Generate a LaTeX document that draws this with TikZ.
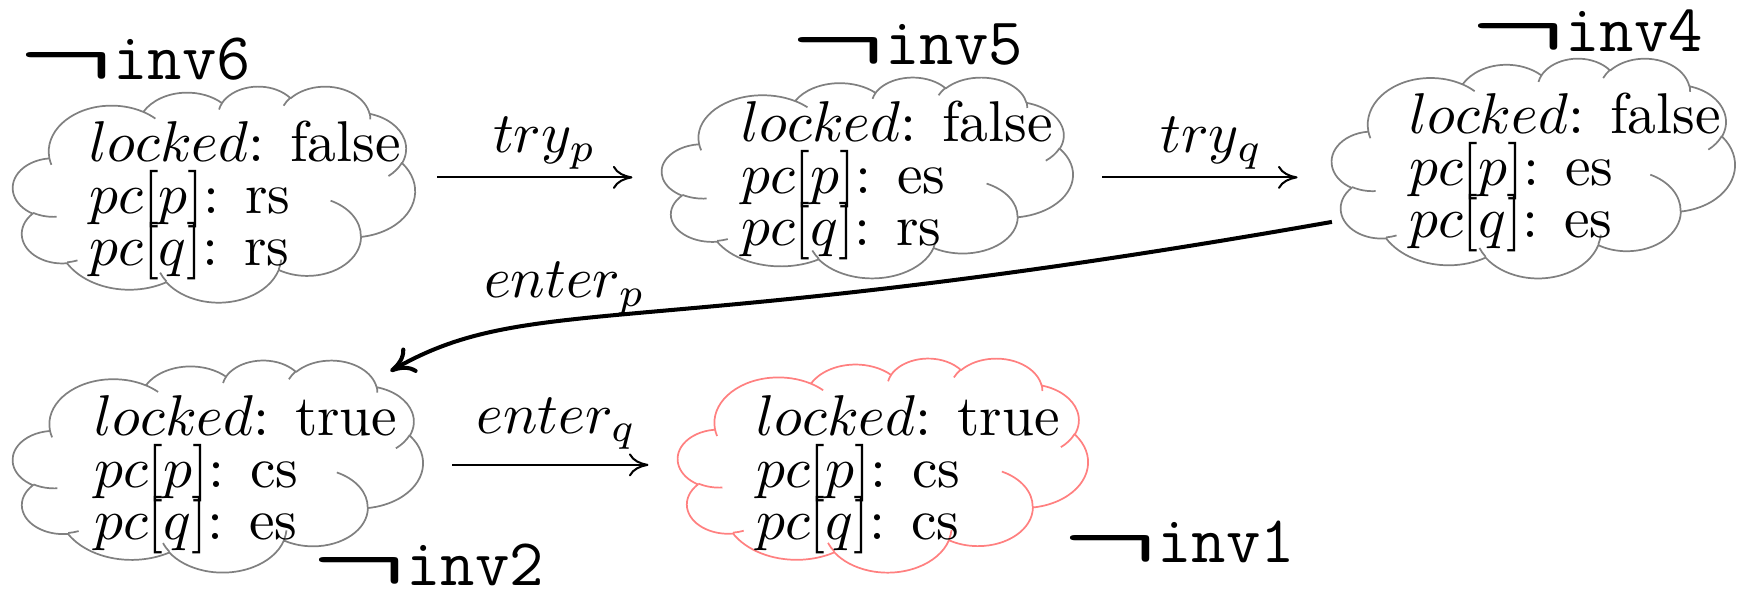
\documentclass[tikz,border=0pt]{standalone}
\usepackage{amsmath}
\usepackage{fontspec}
\usetikzlibrary{arrows.meta}
\newcommand{\notinv}[1]{\raisebox{-0.8pt}{\scalebox{1.8}[1.25]{$\boldsymbol{\neg}$}}#1}

% OOXML arcs give visual angles, TikZ wants parametric ones
\pgfmathdeclarefunction{vispar}{3}{%
  \begingroup
  \pgfmathparse{#1+Mod(atan2(#2*sin(#1),#3*cos(#1))-(#1)+180,360)-180}%
  \pgfmathsmuggle\pgfmathresult
  \endgroup}

\tikzset{
  puff/.style n args={4}{x radius=#1,y radius=#2,
    start angle={vispar(#3,#1,#2)},end angle={vispar(#3+#4,#1,#2)}},
  cloudbox/.style={inner sep=0pt,outer sep=0pt},
  cloudline/.style={draw=gray,line width=0.3pt,line join=round},
  badcloud/.style={cloudline,draw=red!50},
  state/.style={align=left,inner sep=0pt,anchor=north west,
    font=\fontsize{10}{9}\selectfont},
  invlabel/.style={inner sep=0pt,anchor=base west,
    font=\ttfamily\fontsize{11.6}{14}\selectfont},
  trans/.style={-{To[length=3.4pt,width=4pt]},line width=0.35pt},
  bigtrans/.style={-{To[length=4.2pt,width=5pt]},line width=0.7pt},
  lbl/.style={inner sep=0pt,font=\fontsize{10}{12}\selectfont},
}

% cloud outline filling the box of node #1 (#2 x #3 cm), style #4
\newcommand{\pptcloud}[4]{%
  \begin{scope}[shift={(#1.north west)},xscale=#2/100,yscale=-#3/100]
    \draw[#4] (9.028,33.264)
      arc[puff={15.632}{21.273}{-190.4875}{123.7805}]
      arc[puff={12.345}{16.822}{-144.1024}{89.9452}]
      arc[puff={10.104}{13.762}{-145.8079}{99.7230}]
      arc[puff={11.243}{15.266}{-130.9861}{117.2417}]
      arc[puff={12.345}{16.836}{-78.7089}{109.0269}]
      arc[puff={15.683}{21.343}{-46.2673}{130.2690}]
      arc[puff={13.391}{18.211}{0.6250}{114.0333}]
      arc[puff={15.630}{21.331}{22.4516}{115.1726}]
      arc[puff={17.870}{24.405}{66.2426}{75.7110}]
      arc[puff={10.093}{13.699}{-274.9421}{146.7356}]
      arc[puff={10.058}{13.762}{-246.8285}{152.5189}]
      -- cycle
      (10.863,60.595) arc[puff={10.058}{13.762}{86.742}{26.4295}]
      (16.037,80.785) arc[puff={10.093}{13.699}{73.6105}{11.4475}]
      (38.144,90.486) arc[puff={15.630}{21.331}{137.6242}{14.0811}]
      (66.729,80.442) arc[puff={15.630}{21.331}{6.4533}{15.9984}]
      (79.002,53.134) arc[puff={13.391}{18.211}{-70.2924}{70.9174}]
      (96.755,35.542) arc[puff={12.345}{16.836}{30.3180}{27.7515}]
      (88.713,12.560) arc[puff={11.243}{15.266}{-13.7443}{14.8589}]
      (67.310,9.148) arc[puff={11.243}{15.266}{-149.1815}{18.1954}]
      (51.252,10.926) arc[puff={10.104}{13.762}{-163.4943}{17.6864}]
      (32.407,12.019) arc[puff={15.632}{21.273}{-66.7070}{12.3194}]
      (9.553,36.549) arc[puff={15.632}{21.273}{157.6544}{11.8582}];
  \end{scope}}

\begin{document}
\setlength{\lineskiplimit}{-100pt}
\begin{tikzpicture}
\useasboundingbox (0,0) rectangle (10.615,3.654);

% cloud boxes
\node[cloudbox,minimum width=2.457cm,minimum height=1.320cm] (s6) at (1.308,2.469) {};
\node[cloudbox,minimum width=2.512cm,minimum height=1.228cm] (s5) at (5.301,2.570) {};
\node[cloudbox,minimum width=2.463cm,minimum height=1.344cm] (s4) at (9.371,2.628) {};
\node[cloudbox,minimum width=2.506cm,minimum height=1.296cm] (s2) at (1.332,0.807) {};
\node[cloudbox,minimum width=2.506cm,minimum height=1.308cm] (s1) at (5.396,0.813) {};
\pptcloud{s6}{2.457}{1.320}{cloudline}
\pptcloud{s5}{2.512}{1.228}{cloudline}
\pptcloud{s4}{2.463}{1.344}{cloudline}
\pptcloud{s2}{2.506}{1.296}{cloudline}
\pptcloud{s1}{2.506}{1.308}{badcloud}

% states
\node[state] (t6) at (0.538,2.921) {$locked$: false\\$pc[p]$: rs\\$pc[q]$: rs};
\node[state] (t5) at (4.522,3.043) {$locked$: false\\$pc[p]$: es\\$pc[q]$: rs};
\node[state] (t4) at (8.604,3.092) {$locked$: false\\$pc[p]$: es\\$pc[q]$: es};
\node[state] (t2) at (0.568,1.241) {$locked$: true\\$pc[p]$: cs\\$pc[q]$: es};
\node[state] (t1) at (4.614,1.241) {$locked$: true\\$pc[p]$: cs\\$pc[q]$: cs};

% violated invariants
\node[invlabel] (n6) at (0.104,3.166) {\notinv{inv6}};
\node[invlabel] (n5) at (4.822,3.259) {\notinv{inv5}};
\node[invlabel] (n4) at (8.977,3.341) {\notinv{inv4}};
\node[invlabel] (n2) at (1.894,0.079) {\notinv{inv2}};
\node[invlabel] (n1) at (6.484,0.214) {\notinv{inv1}};

% transitions
\draw[trans] ([xshift=1.35mm]s6.east |- s5.west) -- ([xshift=-1.8mm]s5.west)
  node[lbl,pos=0.55,above=1.3pt] {$try_p$};
\draw[trans] ([xshift=1.8mm]s5.east) -- ([xshift=-2.1mm]s5.east -| s4.west)
  node[lbl,pos=0.56,above=1.3pt] {$try_q$};
\draw[bigtrans] (s4.195) .. controls +(190:4.3) and +(30:1.0) ..
  ([shift={(-0.2,-0.07)}]s2.north east)
  node[lbl,pos=0.63,above=0.8pt] {$enter_p$};
\draw[trans] ([xshift=1.8mm]s2.east |- s1.west) -- ([xshift=-1.8mm]s1.west)
  node[lbl,pos=0.53,above=2.5pt] {$enter_q$};
\end{tikzpicture}
\end{document}
